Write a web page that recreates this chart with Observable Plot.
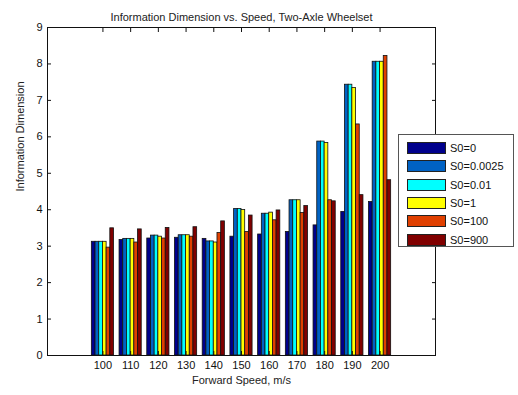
<!DOCTYPE html>
<html>
<head>
<meta charset="utf-8">
<script src="https://cdn.jsdelivr.net/npm/d3@7"></script>
<script src="https://cdn.jsdelivr.net/npm/@observablehq/plot@0.6"></script>
<style>
  html, body { margin: 0; padding: 0; background: #fff; }
  #wrap { position: relative; width: 518px; height: 395px; font-family: "Liberation Sans", Arial, sans-serif; }
  #legend { position: absolute; left: 398px; top: 134px; width: 116px; height: 113px; background: #fff;
            border: 1px solid #555; box-sizing: border-box; padding-top: 4px; }
  .row { display: flex; align-items: center; height: 18.3px; }
  .sw { width: 37px; height: 10px; border: 1px solid #222; margin-left: 8px; margin-right: 4px; }
  .lab { font-size: 11px; color: #111; }
</style>
</head>
<body>
<div id="wrap"></div>
<script>
const speeds = [100, 110, 120, 130, 140, 150, 160, 170, 180, 190, 200];
const seriesNames = ["S0=0", "S0=0.0025", "S0=0.01", "S0=1", "S0=100", "S0=900"];
const seriesColors = ["#00008c", "#0062c4", "#00ffff", "#ffff00", "#e04000", "#800000"];
const s0_0    = [3.12, 3.17, 3.21, 3.23, 3.20, 3.26, 3.32, 3.39, 3.57, 3.94, 4.21];
const s0_0025 = [3.12, 3.20, 3.29, 3.30, 3.13, 4.02, 3.89, 4.26, 5.87, 7.43, 8.06];
const s0_001  = [3.12, 3.20, 3.29, 3.30, 3.13, 4.02, 3.89, 4.26, 5.87, 7.43, 8.06];
const s0_1    = [3.12, 3.20, 3.26, 3.30, 3.10, 3.99, 3.92, 4.26, 5.83, 7.34, 8.06];
const s0_100  = [2.96, 3.10, 3.21, 3.26, 3.36, 3.39, 3.71, 3.91, 4.26, 6.34, 8.22];
const s0_900  = [3.49, 3.46, 3.50, 3.52, 3.68, 3.84, 3.98, 4.10, 4.23, 4.40, 4.81];
const yTicks = [0, 1, 2, 3, 4, 5, 6, 7, 8, 9];
const titleText = "Information Dimension vs. Speed, Two-Axle Wheelset";
const xLabel = "Forward Speed, m/s";
const yLabel = "Information Dimension";

const allSeries = [s0_0, s0_0025, s0_001, s0_1, s0_100, s0_900];
const step = 10, groupFrac = 0.8, nS = seriesNames.length;
const barW = step * groupFrac / nS;
const rows = [];
speeds.forEach((sp, i) => {
  allSeries.forEach((arr, j) => {
    rows.push({speed: sp, series: seriesNames[j], j, value: arr[i],
               x1: sp - step * groupFrac / 2 + j * barW,
               x2: sp - step * groupFrac / 2 + (j + 1) * barW});
  });
});

const chart = Plot.plot({
  width: 518, height: 395,
  marginLeft: 47, marginRight: 83, marginTop: 27, marginBottom: 40,
  style: {fontFamily: "Liberation Sans, Arial, sans-serif", fontSize: "11px", color: "#111", background: "#fff"},
  x: {type: "linear", domain: [speeds[0] - 2 * step, speeds[speeds.length - 1] + 2 * step]},
  y: {domain: [0, 9]},
  color: {domain: seriesNames, range: seriesColors},
  marks: [
    Plot.rectY(rows, {x1: "x1", x2: "x2", y1: 0, y2: "value", fill: "series", stroke: "#111", strokeWidth: 0.8}),
    Plot.frame({stroke: "#111", strokeWidth: 1}),
    Plot.axisX({anchor: "bottom", ticks: speeds, tickSize: 0, tickPadding: 6, tickFormat: d => String(d), label: null, fontSize: 11}),
    Plot.axisX({anchor: "top", ticks: speeds, tickSize: -4, tickFormat: () => "", label: null}),
    Plot.axisX({anchor: "bottom", ticks: speeds, tickSize: -4, tickFormat: () => "", label: null}),
    Plot.axisY({anchor: "left", ticks: yTicks, tickSize: 0, tickPadding: 5, label: null, fontSize: 11}),
    Plot.axisY({anchor: "left", ticks: yTicks, tickSize: -4, tickFormat: () => "", label: null}),
    Plot.axisY({anchor: "right", ticks: yTicks, tickSize: -4, tickFormat: () => "", label: null}),
    Plot.text([titleText], {frameAnchor: "top", dy: -14, fontSize: 11, fill: "#222"}),
    Plot.text([xLabel], {frameAnchor: "bottom", dy: 28, fontSize: 11, fill: "#222"}),
    Plot.text([yLabel], {frameAnchor: "left", dx: -27, rotate: -90, fontSize: 11, fill: "#222"})
  ]
});
const wrap = document.getElementById("wrap");
wrap.appendChild(chart);

const legend = document.createElement("div");
legend.id = "legend";
seriesNames.forEach((n, i) => {
  const r = document.createElement("div"); r.className = "row";
  const s = document.createElement("div"); s.className = "sw"; s.style.background = seriesColors[i];
  const t = document.createElement("span"); t.className = "lab"; t.textContent = n;
  r.appendChild(s); r.appendChild(t); legend.appendChild(r);
});
wrap.appendChild(legend);
</script>
</body>
</html>
